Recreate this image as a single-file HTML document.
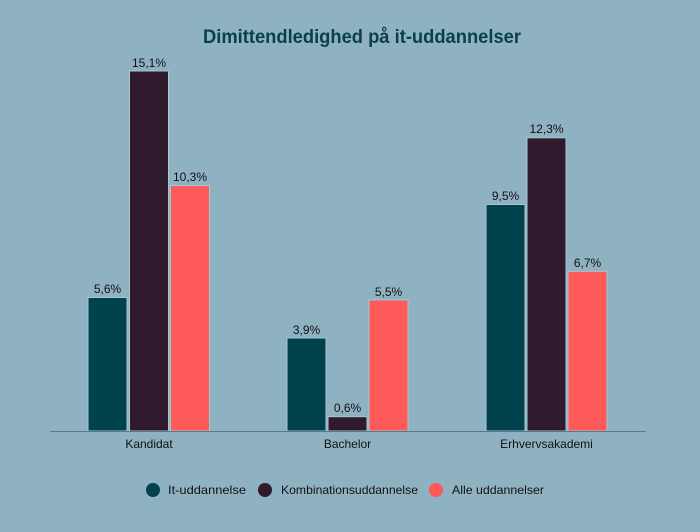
<!DOCTYPE html>
<html><head><meta charset="utf-8"><style>
body{margin:0;background:#8fb2c3;}
svg{display:block;font-family:"Liberation Sans",sans-serif;}
</style></head><body>
<svg width="700" height="532" viewBox="0 0 700 532">
<rect width="700" height="532" fill="#8fb2c3"/>
<text x="203" y="43" textLength="318" lengthAdjust="spacingAndGlyphs" font-size="19" font-weight="bold" fill="#0a4048">Dimittendledighed på it-uddannelser</text>
<g stroke="#a9c6d3" stroke-width="1">
<rect x="88" y="297.5" width="39" height="133.5" fill="#00434d"/>
<rect x="129.5" y="71" width="39" height="360" fill="#2f1a2e"/>
<rect x="170.5" y="185.5" width="39" height="245.5" fill="#ff5a5a"/>
<rect x="287" y="338" width="39" height="93" fill="#00434d"/>
<rect x="328" y="416.7" width="39" height="14.3" fill="#2f1a2e"/>
<rect x="369" y="299.9" width="39" height="131.1" fill="#ff5a5a"/>
<rect x="486" y="204.5" width="39" height="226.5" fill="#00434d"/>
<rect x="527" y="137.8" width="39" height="293.2" fill="#2f1a2e"/>
<rect x="568" y="271.3" width="39" height="159.7" fill="#ff5a5a"/>
</g>
<line x1="50" y1="431.5" x2="646" y2="431.5" stroke="#5a7a88" stroke-width="1"/>
<g font-size="12" fill="#111" text-anchor="middle">
<text x="107.5" y="293">5,6%</text>
<text x="149" y="67">15,1%</text>
<text x="190" y="181">10,3%</text>
<text x="306.5" y="334">3,9%</text>
<text x="347.5" y="412">0,6%</text>
<text x="388.5" y="296">5,5%</text>
<text x="505.5" y="200">9,5%</text>
<text x="546.5" y="133">12,3%</text>
<text x="587.5" y="267">6,7%</text>
<text x="149" y="448">Kandidat</text>
<text x="347.5" y="448">Bachelor</text>
<text x="546.5" y="448">Erhvervsakademi</text>
</g>
<g font-size="12" fill="#111">
<circle cx="153" cy="490" r="7" fill="#00434d"/><text x="168" y="494" textLength="78" lengthAdjust="spacingAndGlyphs">It-uddannelse</text>
<circle cx="265" cy="490" r="7" fill="#2f1a2e"/><text x="281" y="494" textLength="137" lengthAdjust="spacingAndGlyphs">Kombinationsuddannelse</text>
<circle cx="436" cy="490" r="7" fill="#ff5a5a"/><text x="452" y="494" textLength="92" lengthAdjust="spacingAndGlyphs">Alle uddannelser</text>
</g>
</svg>
</body></html>
